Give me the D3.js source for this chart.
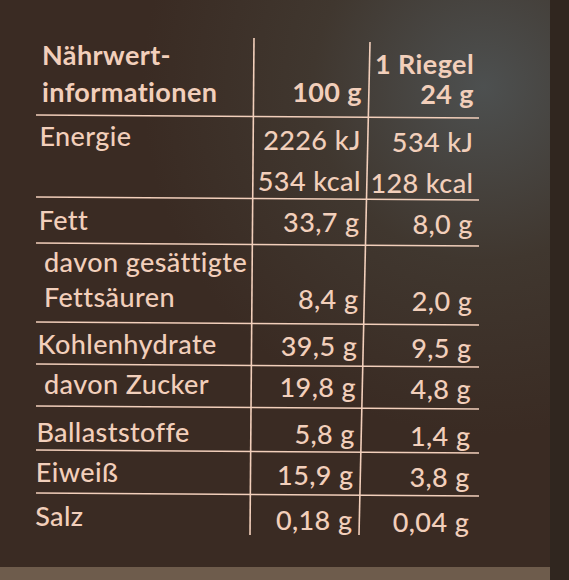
<!DOCTYPE html>
<html><head><meta charset="utf-8">
<script src="https://cdn.jsdelivr.net/npm/d3@7"></script>
<style>body{margin:0;background:#3a2b23}</style>
</head><body><svg id="c" width="569" height="580"></svg>
<script>
const labels = [["Nährwert-","informationen"],["Energie"],["Fett"],["davon gesättigte","Fettsäuren"],["Kohlenhydrate"],["davon Zucker"],["Ballaststoffe"],["Eiweiß"],["Salz"]];
const indent = [false,false,false,true,false,true,false,false,false];
const col100 = [["100 g"],["2226 kJ","534 kcal"],["33,7 g"],["8,4 g"],["39,5 g"],["19,8 g"],["5,8 g"],["15,9 g"],["0,18 g"]];
const colBar = [["1 Riegel","24 g"],["534 kJ","128 kcal"],["8,0 g"],["2,0 g"],["9,5 g"],["4,8 g"],["1,4 g"],["3,8 g"],["0,04 g"]];
const rowBottoms = [115,197,243,322,364,406,450,493,535];

const svg = d3.select("#c");
const defs = svg.append("defs");
const g1 = defs.append("radialGradient").attr("id","bg").attr("cx","0.85").attr("cy","0.15").attr("r","0.6");
g1.append("stop").attr("offset","0").attr("stop-color","#4d5050");
g1.append("stop").attr("offset","0.5").attr("stop-color","#40372f");
g1.append("stop").attr("offset","1").attr("stop-color","#3a2b23");
svg.append("rect").attr("width",569).attr("height",580).attr("fill","url(#bg)");
svg.append("rect").attr("x",0).attr("y",567).attr("width",569).attr("height",13).attr("fill","#6e5c4c");
svg.append("rect").attr("x",550).attr("y",0).attr("width",19).attr("height",580).attr("fill","#30261f");

const ink = "#f2cfbb";
const font = "Lato, 'Open Sans', sans-serif";

svg.selectAll("line.h").data(rowBottoms.slice(0,-1)).join("line")
  .attr("x1",36).attr("x2",479).attr("y1",d=>d).attr("y2",d=>d+3)
  .attr("stroke",ink).attr("stroke-width",1.6);
[[254,38,250,535],[370,42,359,535]].forEach(l=>svg.append("line")
  .attr("x1",l[0]).attr("y1",l[1]).attr("x2",l[2]).attr("y2",l[3]).attr("stroke",ink).attr("stroke-width",1.6));

const base = [[65,102],[146,191],[230],[272,307],[354],[394],[442],[482],[526]];
const base100 = [[102],[150,191],[232],[309],[356],[397],[444],[485],[530]];
const baseBar = [[74,104],[152,193],[234],[311],[358],[399],[446],[487],[532]];
const bold = new Set(["Nährwert-","informationen","100 g","1 Riegel","24 g"]);

function draw(rows, bases, x, anchor){
  rows.forEach((lines,i)=>lines.forEach((t,j)=>{
    svg.append("text").attr("x", x(i,j)).attr("y",bases[i][j])
      .attr("text-anchor",anchor).attr("fill",ink).attr("font-family",font)
      .attr("font-size",27).attr("letter-spacing",0.4)
      .attr("font-weight",bold.has(t)?700:500).text(t);
  }));
}
draw(labels, base, (i)=> (i===0?42:(indent[i]?44:40-i*0.6)), "start");
draw(col100, base100, (i)=>362-i*1.2, "end");
draw(colBar, baseBar, (i)=>474-i*0.6, "end");
</script></body></html>
